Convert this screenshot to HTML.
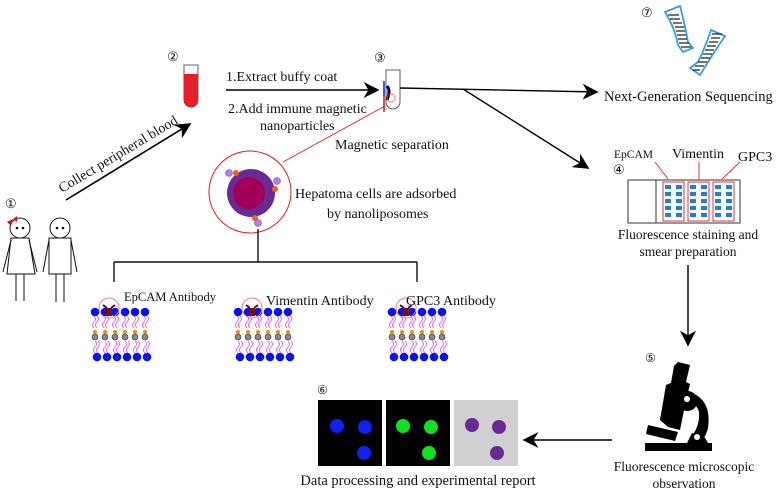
<!DOCTYPE html>
<html><head><meta charset="utf-8"><style>
html,body{margin:0;padding:0;background:#fff}
svg{display:block}
text{font-family:"Liberation Serif",serif;fill:#111}
</style></head><body>
<svg width="784" height="495" viewBox="0 0 784 495" xmlns="http://www.w3.org/2000/svg">
<defs>
<marker id="ah2" viewBox="0 0 10 10" refX="9" refY="5" markerWidth="16" markerHeight="16" orient="auto" markerUnits="userSpaceOnUse">
<path d="M0,0 L10,5 L0,10 L3,5 z" fill="#000"/></marker>
<g id="mem">
<g fill="#0a14e6">
<circle cx="0" cy="0" r="4.3"/><circle cx="10" cy="0" r="4.3"/><circle cx="20" cy="0" r="4.3"/><circle cx="30" cy="0" r="4.3"/><circle cx="40" cy="0" r="4.3"/><circle cx="50" cy="0" r="4.3"/>
<circle cx="2" cy="45" r="4.3"/><circle cx="12" cy="45" r="4.3"/><circle cx="22" cy="45" r="4.3"/><circle cx="32" cy="45" r="4.3"/><circle cx="42" cy="45" r="4.3"/><circle cx="52" cy="45" r="4.3"/>
</g>
<g stroke="#e040f0" stroke-width="0.8" fill="none">
<path d="M-1,4 q3,3 0,6 q-3,3 0,6 M2,4 q3,3 0,6 q-3,3 0,6 M9,4 q3,3 0,6 q-3,3 0,6 M12,4 q3,3 0,6 q-3,3 0,6 M19,4 q3,3 0,6 q-3,3 0,6 M22,4 q3,3 0,6 q-3,3 0,6 M29,4 q3,3 0,6 q-3,3 0,6 M32,4 q3,3 0,6 q-3,3 0,6 M39,4 q3,3 0,6 q-3,3 0,6 M42,4 q3,3 0,6 q-3,3 0,6 M49,4 q3,3 0,6 q-3,3 0,6 M52,4 q3,3 0,6 q-3,3 0,6"/>
<path d="M0,29 q3,3 0,6 q-3,3 0,6 M3,29 q3,3 0,6 q-3,3 0,6 M10,29 q3,3 0,6 q-3,3 0,6 M13,29 q3,3 0,6 q-3,3 0,6 M20,29 q3,3 0,6 q-3,3 0,6 M23,29 q3,3 0,6 q-3,3 0,6 M30,29 q3,3 0,6 q-3,3 0,6 M33,29 q3,3 0,6 q-3,3 0,6 M40,29 q3,3 0,6 q-3,3 0,6 M43,29 q3,3 0,6 q-3,3 0,6 M50,29 q3,3 0,6 q-3,3 0,6 M53,29 q3,3 0,6 q-3,3 0,6"/>
</g>
<g fill="#f08a10"><circle cx="0" cy="20" r="2"/><circle cx="10" cy="20" r="2"/><circle cx="20" cy="20" r="2"/><circle cx="30" cy="20" r="2"/><circle cx="40" cy="20" r="2"/><circle cx="50" cy="20" r="2"/></g>
<g fill="#888" stroke="#333" stroke-width="0.6"><circle cx="0" cy="25" r="3"/><circle cx="10" cy="25" r="3"/><circle cx="20" cy="25" r="3"/><circle cx="30" cy="25" r="3"/><circle cx="40" cy="25" r="3"/><circle cx="50" cy="25" r="3"/></g>
<rect x="11" y="-4" width="6" height="8" fill="#7a1010"/>
<path d="M8,-7 l4,3 M20,-7 l-4,3" stroke="#5a1010" stroke-width="2"/>
<circle cx="14" cy="-4" r="10" fill="none" stroke="#f08080" stroke-width="1"/>
</g>
</defs>

<text x="5" y="208" font-size="13">①</text>
<g stroke="#111" stroke-width="1" fill="none">
<circle cx="20" cy="228" r="10"/>
<path d="M11,238 L29,238 L35,274 L7,274 Z"/>
<path d="M11,240 L3,272 M29,240 L37,272 M16,274 L16,301 M24,274 L24,301"/>
<circle cx="60" cy="228" r="10"/>
<rect x="49" y="238" width="22" height="36"/>
<path d="M49,240 L43,272 M71,240 L77,272 M56,274 L56,302 M64,274 L64,302"/>
</g>
<circle cx="17" cy="228" r="1.3" fill="#111"/><circle cx="23" cy="228" r="1.3" fill="#111"/>
<circle cx="57" cy="228" r="1.3" fill="#111"/><circle cx="63" cy="228" r="1.3" fill="#111"/>
<path d="M7,222 l6,-3 l-2,7 z M13,219 l4,-3 l0,6z" fill="#e01010"/>

<line x1="66" y1="200" x2="190" y2="124" stroke="#000" stroke-width="1.6" marker-end="url(#ah2)"/>
<text x="0" y="0" font-size="14" transform="translate(62,193) rotate(-31)">Collect peripheral blood</text>

<text x="167" y="61" font-size="13">②</text>
<path d="M184,65 h14 v35 a7,7 0 0 1 -14,0 z" fill="#fff" stroke="#333" stroke-width="0.8"/>
<path d="M184,74 h14 v26 a7,7 0 0 1 -14,0 z" fill="#e3202a"/>

<line x1="226" y1="90" x2="378" y2="90" stroke="#000" stroke-width="1.6" marker-end="url(#ah2)"/>
<text x="226" y="81" font-size="14">1.Extract buffy coat</text>
<text x="228" y="113" font-size="14">2.Add immune magnetic</text>
<text x="260" y="130" font-size="14">nanoparticles</text>

<text x="374" y="62" font-size="13">③</text>
<path d="M386,70 h14 v32 a7,7 0 0 1 -14,0 z" fill="#fff" stroke="#333" stroke-width="0.8"/>
<path d="M387,86 q4,4 0,14" stroke="#111" stroke-width="3" fill="none"/>
<circle cx="391" cy="98" r="4" fill="none" stroke="#f05050" stroke-width="0.7"/>
<line x1="384" y1="81" x2="384" y2="96" stroke="#1030e0" stroke-width="1.6"/>
<line x1="384" y1="96" x2="384" y2="112" stroke="#e02020" stroke-width="1.6"/>
<line x1="385" y1="106" x2="283" y2="162" stroke="#e02020" stroke-width="0.9"/>
<text x="335" y="149" font-size="14">Magnetic separation</text>

<path d="M400,88 L597,92" stroke="#000" stroke-width="1.4" fill="none" marker-end="url(#ah2)"/>
<line x1="463" y1="89" x2="588" y2="168" stroke="#000" stroke-width="1.4" marker-end="url(#ah2)"/>

<circle cx="250" cy="192" r="41" fill="#fff" stroke="#e02020" stroke-width="1"/>
<circle cx="251" cy="193" r="24" fill="#6a2a92"/>
<circle cx="249" cy="193" r="16" fill="#a0005a"/>
<g fill="#f06020"><circle cx="236" cy="173" r="3"/><circle cx="275" cy="189" r="3"/><circle cx="255" cy="218" r="3"/></g>
<g fill="#b080e0" stroke="#8050c0" stroke-width="0.6"><circle cx="229" cy="173" r="3.5"/><circle cx="277" cy="181" r="3.5"/><circle cx="258" cy="223" r="3.5"/></g>
<text x="295" y="198" font-size="14">Hepatoma cells are adsorbed</text>
<text x="327" y="218" font-size="14">by nanoliposomes</text>
<g stroke="#111" stroke-width="1.4" fill="none">
<path d="M258,229 V262 M114,262 H417 M114,262 V282 M417,262 V282"/>
</g>

<use href="#mem" x="95" y="312"/>
<use href="#mem" x="238" y="312"/>
<use href="#mem" x="392" y="312"/>
<text x="124" y="301" font-size="12.5">EpCAM Antibody</text>
<text x="266" y="305" font-size="14">Vimentin Antibody</text>
<text x="406" y="305" font-size="14">GPC3 Antibody</text>

<text x="641" y="17" font-size="13">⑦</text>
<g fill="#fff" stroke="#30a0e0" stroke-width="1.8">
<path d="M665,12 L680,6 Q685,25 688,42 L693,48 L683,52 L678,45 Q675,28 665,12 z"/>
<path d="M711,30 L725,36 Q712,55 700,75 L690,68 L698,62 Q705,48 711,30z"/>
</g>
<g stroke="#222" stroke-width="1.3">
<path d="M668,15h11 M670,19h10 M673,23h9 M675,27h9 M676,31h9 M677,35h9 M678,39h9 M679,43h10 M681,47h10"/>
<path d="M712,34h10 M711,38h9 M709,42h9 M707,46h9 M705,50h9 M703,54h9 M701,58h9 M698,62h9 M695,66h9 M693,70h7"/>
</g>
<text x="604" y="101" font-size="14.5">Next-Generation Sequencing</text>

<text x="614" y="158" font-size="11.5">EpCAM</text>
<text x="672" y="158" font-size="14">Vimentin</text>
<text x="738" y="161" font-size="14">GPC3</text>
<text x="613" y="174" font-size="13">④</text>
<rect x="628" y="180" width="112" height="43" fill="#fff" stroke="#333" stroke-width="1"/>
<line x1="656" y1="180" x2="656" y2="223" stroke="#333"/>
<g stroke="#e03040" stroke-width="1" fill="none">
<rect x="663" y="182" width="21" height="39"/><rect x="688" y="182" width="21" height="39"/><rect x="713" y="182" width="21" height="39"/>
<path d="M668,179 L655,162 M699,179 V162 M722,179 L740,162"/>
</g>
<g fill="#2080d0">
<g id="col"><rect x="665" y="185" width="6" height="4"/><rect x="665" y="192" width="6" height="4"/><rect x="665" y="199" width="6" height="4"/><rect x="665" y="206" width="6" height="4"/><rect x="665" y="213" width="6" height="4"/></g>
<use href="#col" x="11"/><use href="#col" x="25"/><use href="#col" x="36"/><use href="#col" x="50"/><use href="#col" x="61"/>
</g>
<text x="688" y="239" font-size="13.5" text-anchor="middle">Fluorescence staining and</text>
<text x="688" y="256" font-size="13.5" text-anchor="middle">smear preparation</text>
<line x1="688" y1="265" x2="688" y2="345" stroke="#000" stroke-width="1.4" marker-end="url(#ah2)"/>

<text x="645" y="362" font-size="12">⑤</text>
<g fill="#000">
<polygon points="678,362 690,365 686,382 690,384 684,410 680,430 668,427 660,420 666,385 671,383 674,366"/>
<path d="M688,391 a10,10 0 1 1 -1,0z"/>
<path d="M690,392 Q712,400 708,428 Q705,440 698,443 L692,436 Q700,425 699,412 Q697,404 688,402z"/>
<polygon points="648,425 678,432 675,441 646,434"/>
<polygon points="687,443 692,433 702,433 708,443"/>
<rect x="645" y="443" width="67" height="8"/>
</g>
<circle cx="687" cy="399" r="3" fill="#fff"/>
<circle cx="697" cy="437" r="3" fill="#fff"/>
<text x="684" y="471" font-size="13.5" text-anchor="middle">Fluorescence microscopic</text>
<text x="684" y="488" font-size="13.5" text-anchor="middle">observation</text>

<line x1="612" y1="440" x2="524" y2="440" stroke="#000" stroke-width="1.4" marker-end="url(#ah2)"/>

<text x="317" y="394" font-size="12">⑥</text>
<rect x="318" y="400" width="64" height="66" fill="#000"/>
<rect x="386" y="400" width="64" height="66" fill="#000"/>
<rect x="454" y="400" width="64" height="66" fill="#d0d0d0"/>
<g fill="#1020f0"><circle cx="337" cy="426" r="7"/><circle cx="365" cy="427" r="7"/><circle cx="364" cy="453" r="7"/></g>
<g fill="#10e020"><circle cx="403" cy="426" r="7"/><circle cx="431" cy="427" r="7"/><circle cx="429" cy="453" r="7"/></g>
<g fill="#6a2a92"><circle cx="472" cy="425" r="7"/><circle cx="499" cy="427" r="7"/><circle cx="497" cy="453" r="7"/></g>
<text x="418" y="485" font-size="14.5" text-anchor="middle">Data processing and experimental report</text>
</svg>
</body></html>
